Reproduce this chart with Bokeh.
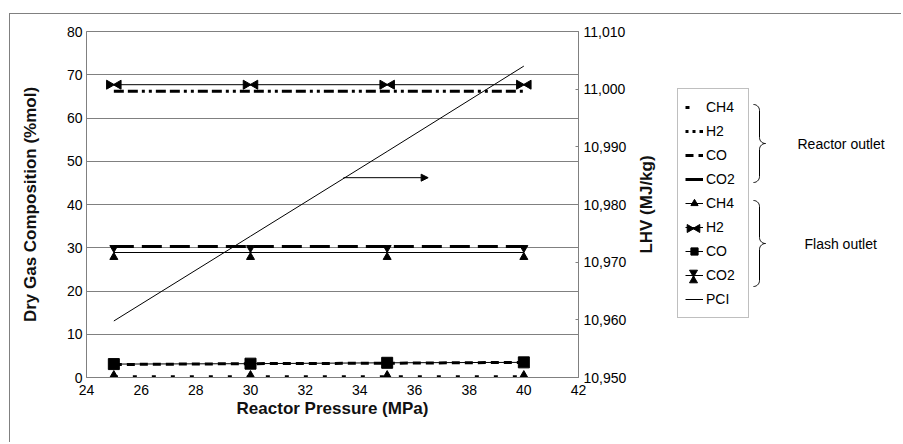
import numpy as np
from bokeh.plotting import figure
from bokeh.models import (Range1d, LinearAxis, NumeralTickFormatter, FixedTicker,
                          Legend, LegendItem, Arrow, NormalHead, ColumnDataSource, Div, Spacer)
from bokeh.transform import dodge
from bokeh.layouts import row, column
from bokeh.core.properties import value
from bokeh.embed import file_html
from bokeh.resources import INLINE

# ---------------- data ----------------
pressure = [25, 30, 35, 40]
reactor_ch4 = [0.2, 0.2, 0.2, 0.2]
reactor_h2 = [66.2, 66.2, 66.2, 66.2]
reactor_co = [3.0, 3.2, 3.3, 3.5]
reactor_co2 = [30.3, 30.3, 30.3, 30.3]
flash_ch4 = [0.0, 0.0, 0.0, 0.0]
flash_h2 = [67.7, 67.7, 67.7, 67.7]
flash_co = [3.1, 3.2, 3.4, 3.5]
flash_co2 = [28.9, 28.9, 28.9, 28.9]
lhv_pci = [10959.8, 10974.5, 10989.2, 11004.0]

x_ticks = [24, 26, 28, 30, 32, 34, 36, 38, 40, 42]
left_ticks = [0, 10, 20, 30, 40, 50, 60, 70, 80]
right_ticks = [10950, 10960, 10970, 10980, 10990, 11000, 11010]
legend_labels = ["CH4", "H2", "CO", "CO2", "CH4", "H2", "CO", "CO2", "PCI"]
group_labels = ["Reactor outlet", "Flash outlet"]
x_title = "Reactor Pressure (MPa)"
y_title = "Dry Gas Composition (%mol)"
y2_title = "LHV (MJ/kg)"

FONT = "Liberation Sans"
GRAY = "#808080"
H = 428                 # figure height
TOP = 17                # frame top offset inside figure
FH = 346                # frame height
BOT = H - TOP - FH
FRAME_TOP, FRAME_BOT = 31, 377   # page y of frame edges

R_STYLES = [dict(line_width=3, line_dash="4 15"),
            dict(line_width=3, line_dash="10 4 10 4 3 4 3 4"),
            dict(line_width=3, line_dash="8 5"),
            dict(line_width=3, line_dash="20 8")]
MK = dict(fill_color="black", line_color="black")

p = figure(width=625, height=H, x_range=Range1d(24, 42), y_range=Range1d(0, 80),
           output_backend="svg", toolbar_location=None,
           min_border_left=76, min_border_right=57, min_border_top=TOP, min_border_bottom=BOT)
p.extra_y_ranges = {"lhv": Range1d(10950, 11010)}
p.outline_line_color = GRAY

p.xaxis.ticker = FixedTicker(ticks=x_ticks)
p.yaxis.ticker = FixedTicker(ticks=left_ticks)
for ax in (p.xaxis[0], p.yaxis[0]):
    ax.axis_line_color = GRAY
    ax.major_tick_out = 0
    ax.major_tick_in = 0
    ax.minor_tick_line_color = None
    ax.major_label_text_font = FONT
    ax.major_label_text_font_size = "14px"
    ax.major_label_text_color = "black"
    ax.axis_label_text_font = FONT
    ax.axis_label_text_font_style = "bold"
    ax.axis_label_text_font_size = "17px"
    ax.axis_label_text_color = "#111111"
p.xaxis.axis_label = x_title
p.yaxis.axis_label = y_title
p.xaxis.major_label_standoff = 7
p.xaxis.axis_label_standoff = 1
p.yaxis.major_label_standoff = 4
p.yaxis.axis_label_standoff = 24

rax = LinearAxis(y_range_name="lhv", ticker=FixedTicker(ticks=right_ticks),
                 formatter=NumeralTickFormatter(format="0,0"))
rax.axis_line_color = GRAY
rax.major_tick_line_color = GRAY
rax.major_tick_in = 3
rax.major_tick_out = 0
rax.minor_tick_line_color = None
rax.major_label_standoff = 5
rax.major_label_text_font = FONT
rax.major_label_text_font_size = "14px"
rax.major_label_text_color = "black"
p.add_layout(rax, "right")

p.xgrid.visible = False
p.ygrid.ticker = FixedTicker(ticks=left_ticks)
p.ygrid.grid_line_color = GRAY

# ------------- reactor outlet series (thick styled lines) -------------
for ys, st in zip([reactor_ch4, reactor_h2, reactor_co, reactor_co2], R_STYLES):
    p.line(pressure, ys, line_color="black", **st)

# ------------- flash outlet series (thin lines + markers) -------------
cds = ColumnDataSource(dict(x=pressure, ch4=flash_ch4, h2=flash_h2, co=flash_co, co2=flash_co2))
for col in ["ch4", "h2", "co", "co2"]:
    p.line("x", col, source=cds, line_color="black", line_width=1)
p.scatter("x", "ch4", source=cds, marker="triangle", size=12, **MK)
p.scatter(dodge("x", -0.17, range=p.x_range), "h2", source=cds, marker="triangle",
          angle=-np.pi / 2, size=9, **MK)
p.scatter(dodge("x", 0.17, range=p.x_range), "h2", source=cds, marker="triangle",
          angle=np.pi / 2, size=9, **MK)
p.scatter("x", "co", source=cds, marker="square", size=11, **MK)
p.scatter("x", dodge("co2", 1.07, range=p.y_range), source=cds, marker="inverted_triangle", size=8, **MK)
p.scatter("x", dodge("co2", -1.07, range=p.y_range), source=cds, marker="triangle", size=8, **MK)

p.line(pressure, lhv_pci, y_range_name="lhv", line_color="black", line_width=1)

p.add_layout(Arrow(end=NormalHead(size=7, fill_color="black", line_color="black"),
                   x_start=33.4, y_start=46.2, x_end=36.5, y_end=46.2,
                   line_color="black", line_width=1))

# ------------- side panel: right-axis title, legend, braces, group labels -------------
X0, X1 = 635, 901
p2 = figure(width=X1 - X0, height=H, x_range=Range1d(X0, X1),
            y_range=Range1d(FRAME_BOT, FRAME_TOP),
            output_backend="svg", toolbar_location=None, x_axis_type=None, y_axis_type=None,
            min_border_left=0, min_border_right=0, min_border_top=TOP, min_border_bottom=BOT)
p2.grid.visible = False
p2.outline_line_color = None

p2.text(x=[646], y=[204], text=[y2_title], angle=np.pi / 2,
        text_font=value(FONT), text_font_size="17px", text_font_style="bold",
        text_color="#111111", text_align="center", text_baseline="middle")

# legend geometry (page pixels)
LEG_L, LEG_B, PAD, ROW_H, GAP, GLW = 677, 318, 7, 22, 2, 18
n_items = len(legend_labels)
LEG_T = LEG_B - (2 * PAD + n_items * ROW_H + (n_items - 1) * GAP)
sym_x = LEG_L + PAD + GLW / 2


def item_y(k):
    return LEG_T + PAD + ROW_H / 2 + k * (ROW_H + GAP)


# legend sample glyphs: a single point placed off-canvas, only for the legend symbols
o = dict(x=[0], y=[0])
leg_r = [[p2.line(**o, line_color="black", **st)] for st in R_STYLES]
leg_r[1][0].glyph.line_dash_offset = 28
l_ch4 = [p2.line(**o, line_color="black"), p2.scatter(**o, marker="triangle", size=11, **MK)]
l_h2 = [p2.line(**o, line_color="black")]
l_co = [p2.line(**o, line_color="black"), p2.scatter(**o, marker="square", size=10, **MK)]
l_co2 = [p2.line(**o, line_color="black")]
l_pci = [p2.line(**o, line_color="black")]
groups = leg_r + [l_ch4, l_h2, l_co, l_co2, l_pci]

# bow-tie (H2) and hourglass (CO2) symbols of the flash-outlet legend entries
d = 4.0
p2.scatter([sym_x - d], [item_y(5)], marker="triangle", angle=-np.pi / 2, size=8, **MK)
p2.scatter([sym_x + d], [item_y(5)], marker="triangle", angle=np.pi / 2, size=8, **MK)
p2.scatter([sym_x], [item_y(7) - d], marker="inverted_triangle", size=8, **MK)
p2.scatter([sym_x], [item_y(7) + d], marker="triangle", size=8, **MK)

legend = Legend(items=[LegendItem(label=lab, renderers=rs) for lab, rs in zip(legend_labels, groups)],
                location=(LEG_L - X0, FRAME_BOT - LEG_B))
legend.label_text_font = FONT
legend.label_text_font_size = "14px"
legend.label_text_color = "black"
legend.label_height = ROW_H
legend.glyph_height = ROW_H
legend.glyph_width = GLW
legend.label_width = 35
legend.label_standoff = 3
legend.spacing = GAP
legend.padding = PAD
legend.margin = 0
legend.border_line_color = GRAY
legend.border_line_width = 1
legend.background_fill_color = None
legend.background_fill_alpha = 0
p2.add_layout(legend, "center")


def brace(x0, ytop, ybot, r):
    ymid = (ytop + ybot) / 2
    t = np.linspace(0, np.pi / 2, 12)
    xs = np.concatenate([x0 + r * np.sin(t), x0 + 2 * r - r * np.cos(t),
                         x0 + 2 * r - r * np.sin(t), x0 + r * np.cos(t)])
    ys = np.concatenate([ytop + r - r * np.cos(t), ymid - r + r * np.sin(t),
                         ymid + r - r * np.cos(t), ybot - r + r * np.sin(t)])
    return xs, ys


for (yt, yb) in [(104, 182), (200, 286)]:
    bx, by = brace(753, yt, yb, 6)
    p2.line(bx, by, line_color="black", line_width=1)

p2.text(x=[797, 804], y=[143, 243], text=group_labels,
        text_font=value(FONT), text_font_size="14px", text_color="black",
        text_baseline="middle", text_align="left")

# chart-area border (top and left edges) as thin gray strips
top_line = Div(width=X1 - 9, height=1, margin=0, styles={"background-color": GRAY})
left_line = Div(width=1, height=H, margin=0, styles={"background-color": GRAY})
layout = column(Spacer(height=13, margin=0),
                row(Spacer(width=9, margin=0), top_line),
                row(Spacer(width=9, margin=0), left_line, p, p2))

open("out.html", "w").write(file_html(layout, INLINE))
